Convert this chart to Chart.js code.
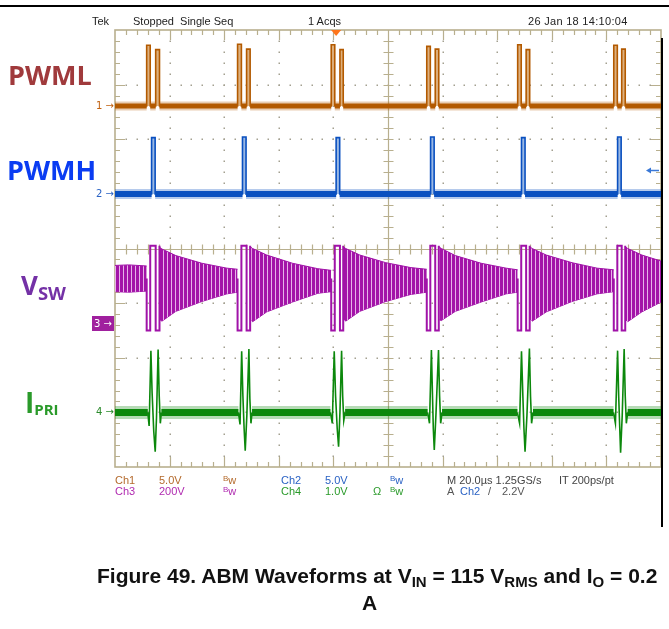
<!DOCTYPE html>
<html>
<head>
<meta charset="utf-8">
<script src="https://cdn.jsdelivr.net/npm/chart.js@4"></script>
<style>
  body { margin: 0; background: #fff; }
  #wrap { position: relative; width: 669px; height: 629px; overflow: hidden; }
  #scope { position: absolute; left: 0; top: 0; }
  .t { position: absolute; white-space: nowrap; font-family: "Liberation Sans", Arial, sans-serif; font-size: 11px; line-height: 11px; }
  .lbl { position: absolute; white-space: nowrap; font-family: "Open Sans", sans-serif; font-weight: 700; }
  .bw { font-size: 8px; position: relative; top: -3px; }
  .mk { position: absolute; font-family: "DejaVu Sans", sans-serif; font-size: 10px; line-height: 12px; text-align: right; white-space: nowrap; }
  .cap { position: absolute; white-space: nowrap; font-family: "Liberation Sans", Arial, sans-serif; font-weight: 700; font-size: 21px; line-height: 21px; color: #111; }
  .cap sub { font-size: 15px; vertical-align: -4px; line-height: 0; }
</style>
</head>
<body>
<div id="wrap">
  <canvas id="scope" width="669" height="629"></canvas>

  <div style="position:absolute;left:0;top:5px;width:669px;height:2px;background:#000"></div>
  <div style="position:absolute;left:661px;top:38px;width:2px;height:489px;background:#000"></div>

  <div class="t" style="left:92px;top:16px;color:#222">Tek</div>
  <div class="t" style="left:133px;top:16px;color:#222">Stopped&nbsp; Single Seq</div>
  <div class="t" style="left:308px;top:16px;color:#222">1 Acqs</div>
  <div class="t" style="left:528px;top:16px;color:#222;letter-spacing:0.3px">26 Jan 18 14:10:04</div>

  <div class="lbl" style="left:8px;top:61px;font-size:27px;line-height:27px;color:#a03a3c">PWML</div>
  <div class="lbl" style="left:7px;top:156px;font-size:27px;line-height:27px;color:#0a3cf2">PWMH</div>
  <div class="lbl" style="left:21px;top:272px;font-size:26px;line-height:26px;color:#7431a6">V<span style="font-size:18.5px;vertical-align:-5px">SW</span></div>
  <div class="lbl" style="left:25px;top:388px;font-size:28px;line-height:28px;color:#2a9a2a">I<span style="font-size:15px;vertical-align:-2px">PRI</span></div>

  <div class="mk" id="mk1" style="right:555px;color:#c0600f">1 →</div>
  <div class="mk" id="mk2" style="right:555px;color:#2a62c4">2 →</div>
  <div class="mk" id="mk3" style="left:92px;width:22px;height:15px;line-height:15px;text-align:center;background:#a0209e;color:#fff">3 →</div>
  <div class="mk" id="mk4" style="right:555px;color:#2a8a2a">4 →</div>

  <div class="t" style="left:115px;top:475px;color:#b46a2c">Ch1</div>
  <div class="t" style="left:159px;top:475px;color:#b46a2c">5.0V</div>
  <div class="t" style="left:223px;top:475px;color:#b46a2c"><span class="bw">B</span>w</div>
  <div class="t" style="left:281px;top:475px;color:#2a62c4">Ch2</div>
  <div class="t" style="left:325px;top:475px;color:#2a62c4">5.0V</div>
  <div class="t" style="left:390px;top:475px;color:#2a62c4"><span class="bw">B</span>w</div>
  <div class="t" style="left:447px;top:475px;color:#444">M 20.0µs 1.25GS/s</div>
  <div class="t" style="left:559px;top:475px;color:#444">IT 200ps/pt</div>

  <div class="t" style="left:115px;top:486px;color:#b02ab0">Ch3</div>
  <div class="t" style="left:159px;top:486px;color:#b02ab0">200V</div>
  <div class="t" style="left:223px;top:486px;color:#b02ab0"><span class="bw">B</span>w</div>
  <div class="t" style="left:281px;top:486px;color:#2a9a2a">Ch4</div>
  <div class="t" style="left:325px;top:486px;color:#2a9a2a">1.0V</div>
  <div class="t" style="left:373px;top:486px;color:#2a9a2a">Ω</div>
  <div class="t" style="left:390px;top:486px;color:#2a9a2a"><span class="bw">B</span>w</div>
  <div class="t" style="left:447px;top:486px;color:#555">A</div>
  <div class="t" style="left:460px;top:486px;color:#2a62c4">Ch2</div>
  <div class="t" style="left:488px;top:486px;color:#555">/</div>
  <div class="t" style="left:502px;top:486px;color:#555">2.2V</div>

  <div class="cap" style="left:97px;top:565px">Figure 49. ABM Waveforms at V<sub>IN</sub> = 115 V<sub>RMS</sub> and I<sub>O</sub> = 0.2</div>
  <div class="cap" style="left:362px;top:592px">A</div>
</div>

<script>
// screen: 10 div x 20 µs, 8 div vertical (values in divisions, 0 = centre)
const timeMin = 0, timeMax = 200;
const divMin = -4, divMax = 4;

// Ch1 PWML
const pwmlLow = 2.61;
const pwmlRise = [11.6, 14.9, 44.9, 48.2, 79.2, 82.4, 114.2, 117.3, 147.5, 150.6, 182.7, 185.6];
const pwmlFall = [12.9, 16.3, 46.3, 49.5, 80.5, 83.6, 115.5, 118.6, 148.8, 151.9, 184.0, 186.9];
const pwmlTop  = [3.72, 3.64, 3.74, 3.65, 3.73, 3.64, 3.70, 3.65, 3.73, 3.64, 3.72, 3.65];

// Ch2 PWMH
const pwmhLow = 1.0;
const pwmhRise = [13.4, 46.7, 81.0, 115.6, 148.9, 184.1];
const pwmhFall = [14.7, 48.0, 82.3, 116.9, 150.2, 185.4];
const pwmhTop  = [2.03, 2.04, 2.03, 2.04, 2.03, 2.04];
const trigTime = 81.0, trigLevel = 1.44;

// Ch3 VSW (switch node, ringing envelope between events)
const vswLow = -1.5, vswTop = 0.05, vswMid = -0.55;
const vswEnvT = [
  [0, 5, 11.6],
  [16.4, 17.2, 22.3, 31.8, 41.0, 44.9],
  [49.6, 50.4, 55.6, 65.0, 74.3, 79.2],
  [83.7, 84.5, 89.7, 99.2, 108.4, 114.2],
  [118.7, 119.5, 124.7, 134.1, 143.3, 147.5],
  [152.0, 152.8, 158.0, 167.4, 176.6, 182.7],
  [187.0, 187.8, 193.0, 200]
];
const vswEnvHi = [
  [-0.31, -0.30, -0.32],
  [0.02, -0.01, -0.13, -0.27, -0.36, -0.38],
  [0.03, 0.0, -0.12, -0.27, -0.37, -0.40],
  [0.03, 0.0, -0.12, -0.26, -0.35, -0.38],
  [0.03, 0.0, -0.13, -0.27, -0.36, -0.39],
  [0.03, 0.0, -0.12, -0.26, -0.36, -0.39],
  [0.03, 0.0, -0.12, -0.23]
];
const vswEnvLo = [
  [-0.79, -0.80, -0.78],
  [-1.30, -1.33, -1.15, -0.97, -0.83, -0.80],
  [-1.30, -1.34, -1.16, -0.98, -0.82, -0.79],
  [-1.28, -1.33, -1.15, -0.97, -0.84, -0.80],
  [-1.30, -1.32, -1.15, -0.98, -0.83, -0.80],
  [-1.29, -1.33, -1.16, -0.97, -0.83, -0.79],
  [-1.30, -1.34, -1.16, -0.98]
];

// Ch4 IPRI
const ipriBase = -3.0;
const ipriT = [
  [12.0, 12.5, 13.15, 13.6, 14.2, 14.73, 15.2, 15.79, 16.2, 16.6, 17.0],
  [45.2, 45.8, 46.4, 46.85, 47.3, 47.7, 48.3, 49.05, 49.4, 49.8, 50.2],
  [78.9, 79.6, 80.3, 80.8, 81.4, 81.9, 82.4, 83.0, 83.4, 83.8, 84.3],
  [114.5, 115.2, 115.9, 116.3, 116.6, 116.95, 117.6, 118.5, 118.9, 119.3, 119.8],
  [147.4, 148.2, 148.9, 149.4, 149.8, 150.2, 150.9, 151.8, 152.2, 152.6, 153.1],
  [182.6, 183.3, 184.1, 184.5, 184.9, 185.2, 185.8, 186.5, 186.9, 187.3, 187.8]
];
const ipriV = [
  [-3.0, -3.25, -1.87, -2.65, -3.35, -3.72, -3.1, -1.85, -2.7, -3.2, -3.0],
  [-3.0, -3.22, -1.88, -2.7, -3.3, -3.70, -3.05, -1.84, -2.75, -3.2, -3.0],
  [-3.0, -3.2, -1.88, -2.7, -3.3, -3.63, -3.0, -1.87, -2.7, -3.15, -3.0],
  [-3.0, -3.2, -1.86, -2.7, -3.3, -3.69, -3.0, -1.86, -2.7, -3.2, -3.0],
  [-3.0, -3.2, -1.88, -2.7, -3.3, -3.72, -3.05, -1.83, -2.7, -3.2, -3.0],
  [-3.0, -3.2, -1.87, -2.7, -3.3, -3.74, -3.05, -1.84, -2.7, -3.2, -3.0]
];

const colPwml = "#b35a00", colPwmh = "#0a50c0", colVsw = "#a012a8", colIpri = "#0c880c";

// step trace through rising / falling edges
function pulseTrace(low, rise, fall, top) {
  const pts = [{ x: timeMin, y: low }];
  rise.forEach((r, i) => {
    pts.push({ x: r, y: low }, { x: r, y: top[i] }, { x: fall[i], y: top[i] }, { x: fall[i], y: low });
  });
  pts.push({ x: timeMax, y: low });
  return pts;
}

// flat noisy baseline between pulses
function baseline(level, starts, ends) {
  const pts = [{ x: timeMin, y: level }];
  starts.forEach((s, i) => {
    pts.push({ x: s, y: level }, { x: s, y: null }, { x: ends[i], y: level });
  });
  pts.push({ x: timeMax, y: level });
  return pts;
}

function line(data, color, width, extra) {
  return Object.assign({ data: data, borderColor: color, borderWidth: width, pointRadius: 0, fill: false, spanGaps: false }, extra || {});
}

// ringing texture
const stripe = document.createElement("canvas");
stripe.width = 4; stripe.height = 4;
const sctx = stripe.getContext("2d");
sctx.fillStyle = "#e6b4e8"; sctx.fillRect(0, 0, 4, 4);
sctx.fillStyle = "#a314a8"; sctx.fillRect(0, 0, 3, 4);
const vswPattern = sctx.createPattern(stripe, "repeat");

const datasets = [];

// PWML
datasets.push(line(pulseTrace(pwmlLow, pwmlRise, pwmlFall, pwmlTop), colPwml, 1.6, { fill: { value: pwmlLow }, backgroundColor: "#ddb07e" }));
datasets.push(line(baseline(pwmlLow, pwmlRise, pwmlFall), colPwml, 5));
datasets.push(line(baseline(pwmlLow, pwmlRise, pwmlFall), "rgba(179,90,0,0.3)", 9));

// PWMH
datasets.push(line(pulseTrace(pwmhLow, pwmhRise, pwmhFall, pwmhTop), colPwmh, 1.6, { fill: { value: pwmhLow }, backgroundColor: "#9ab8e4" }));
datasets.push(line(baseline(pwmhLow, pwmhRise, pwmhFall), colPwmh, 6));
datasets.push(line(baseline(pwmhLow, pwmhRise, pwmhFall), "rgba(10,80,192,0.3)", 10));

// VSW switching edges
const vswSwitch = [];
for (let i = 0; i < pwmlRise.length; i += 2) {
  const aR = pwmlRise[i], aF = pwmlFall[i], bR = pwmlRise[i + 1], bF = pwmlFall[i + 1];
  vswSwitch.push({ x: aR, y: vswMid }, { x: aR, y: vswLow }, { x: aF, y: vswLow }, { x: aF, y: vswTop },
                 { x: bR, y: vswTop }, { x: bR, y: vswLow }, { x: bF, y: vswLow }, { x: bF, y: vswTop }, { x: bF, y: null });
}
datasets.push(line(vswSwitch, colVsw, 2));

// VSW envelope blocks
vswEnvT.forEach((ts, k) => {
  datasets.push(line(ts.map((t, i) => ({ x: t, y: vswEnvHi[k][i] })), colVsw, 1, { fill: "+1", backgroundColor: vswPattern }));
  datasets.push(line(ts.map((t, i) => ({ x: t, y: vswEnvLo[k][i] })), colVsw, 1));
});

// IPRI
const ipriPts = [];
ipriT.forEach((ts, k) => {
  ts.forEach((t, i) => ipriPts.push({ x: t, y: ipriV[k][i] }));
  ipriPts.push({ x: ts[ts.length - 1], y: null });
});
datasets.push(line(ipriPts, colIpri, 1.6));
const ipriStarts = ipriT.map(ts => ts[0]);
const ipriEnds = ipriT.map(ts => ts[ts.length - 1]);
datasets.push(line(baseline(ipriBase, ipriStarts, ipriEnds), colIpri, 7));
datasets.push(line(baseline(ipriBase, ipriStarts, ipriEnds), "rgba(12,136,12,0.3)", 13));

// Tek graticule
const graticule = {
  id: "graticule",
  beforeDatasetsDraw(chart) {
    const { ctx, chartArea: a, scales: { x, y } } = chart;
    const tan = "#b8af8e";
    const px = v => Math.round(x.getPixelForValue(v)) + 0.5;
    const py = v => Math.round(y.getPixelForValue(v)) + 0.5;
    ctx.save();
    ctx.fillStyle = "#a3a090";
    for (let i = 1; i < 10; i++) {
      if (i === 5) continue;
      for (let j = 1; j < 40; j++) ctx.fillRect(px(i * 20) - 1, py(-4 + j * 0.2) - 1, 1.5, 1.5);
    }
    for (let j = 1; j < 8; j++) {
      if (j === 4) continue;
      for (let i = 1; i < 50; i++) ctx.fillRect(px(i * 4) - 1, py(-4 + j) - 1, 1.5, 1.5);
    }
    ctx.strokeStyle = tan;
    ctx.lineWidth = 1.2;
    ctx.beginPath();
    const cx = px(100), cy = py(0);
    ctx.moveTo(cx, a.top); ctx.lineTo(cx, a.bottom);
    ctx.moveTo(a.left, cy); ctx.lineTo(a.right, cy);
    for (let i = 1; i < 50; i++) {
      const tx = px(i * 4);
      ctx.moveTo(tx, cy - 5); ctx.lineTo(tx, cy + 5);
      const big = i % 5 === 0 ? 10 : 5;
      ctx.moveTo(tx, a.top); ctx.lineTo(tx, a.top + big);
      ctx.moveTo(tx, a.bottom); ctx.lineTo(tx, a.bottom - big);
    }
    for (let j = 1; j < 40; j++) {
      const ty = py(-4 + j * 0.2);
      ctx.moveTo(cx - 5, ty); ctx.lineTo(cx + 5, ty);
      const big = j % 5 === 0 ? 10 : 5;
      ctx.moveTo(a.left, ty); ctx.lineTo(a.left + big, ty);
      ctx.moveTo(a.right, ty); ctx.lineTo(a.right - big, ty);
    }
    ctx.stroke();
    ctx.lineWidth = 1.6;
    ctx.strokeRect(a.left, a.top, a.right - a.left, a.bottom - a.top);
    ctx.restore();
  },
  afterDraw(chart) {
    const { ctx, chartArea: a, scales: { x, y } } = chart;
    ctx.save();
    // trigger position
    const tx = x.getPixelForValue(trigTime);
    ctx.fillStyle = "#ff7418";
    ctx.beginPath();
    ctx.moveTo(tx - 5, a.top); ctx.lineTo(tx + 5, a.top); ctx.lineTo(tx, a.top + 6);
    ctx.closePath(); ctx.fill();
    // trigger level
    const ly = Math.round(y.getPixelForValue(trigLevel)) + 0.5;
    ctx.strokeStyle = "#3a78d6"; ctx.fillStyle = "#3a78d6"; ctx.lineWidth = 1.5;
    ctx.beginPath(); ctx.moveTo(a.right - 12, ly); ctx.lineTo(a.right - 2, ly); ctx.stroke();
    ctx.beginPath(); ctx.moveTo(a.right - 15, ly); ctx.lineTo(a.right - 10, ly - 3); ctx.lineTo(a.right - 10, ly + 3);
    ctx.closePath(); ctx.fill();
    ctx.restore();
  }
};

const chart = new Chart(document.getElementById("scope"), {
  type: "line",
  data: { datasets: datasets },
  options: {
    responsive: false,
    animation: false,
    devicePixelRatio: 1,
    layout: { padding: { left: 115, right: 8, top: 30, bottom: 162 } },
    scales: {
      x: { type: "linear", min: timeMin, max: timeMax, display: false },
      y: { type: "linear", min: divMin, max: divMax, display: false }
    },
    elements: { line: { tension: 0 }, point: { radius: 0 } },
    plugins: { legend: { display: false }, tooltip: { enabled: false } }
  },
  plugins: [graticule]
});

// channel ground markers follow the scale
const ys = chart.scales.y;
document.getElementById("mk1").style.top = (ys.getPixelForValue(pwmlLow) - 6) + "px";
document.getElementById("mk2").style.top = (ys.getPixelForValue(pwmhLow) - 6) + "px";
document.getElementById("mk3").style.top = (ys.getPixelForValue(vswLow + 0.13) - 7.5) + "px";
document.getElementById("mk4").style.top = (ys.getPixelForValue(ipriBase) - 6) + "px";
</script>
</body>
</html>
